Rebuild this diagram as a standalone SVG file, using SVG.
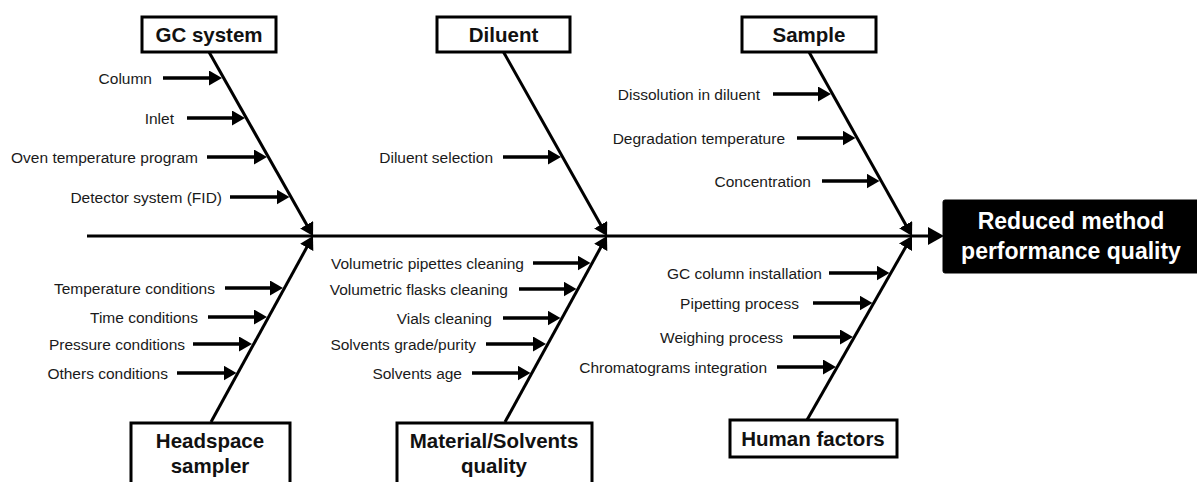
<svg xmlns="http://www.w3.org/2000/svg" width="1197" height="482" viewBox="0 0 1197 482">
  <style>
    .bg { fill: #ffffff; }
    .box { fill: #ffffff; stroke: #000000; stroke-width: 3; }
    .effect { fill: #000000; stroke: #000000; stroke-width: 1; }
    .title { font-family: "Liberation Sans", Arial, sans-serif; font-size: 20.5px; font-weight: bold; fill: #111111; text-anchor: middle; }
    .etitle { font-family: "Liberation Sans", Arial, sans-serif; font-size: 23px; font-weight: bold; fill: #ffffff; text-anchor: middle; }
    .lbl { font-family: "Liberation Sans", Arial, sans-serif; font-size: 15.5px; fill: #1a1a1a; text-anchor: end; }
    .line { stroke: #000000; stroke-width: 3; fill: none; }
    .sub { stroke: #000000; stroke-width: 3.5; fill: none; marker-end: url(#ah); }
    .branch { stroke: #000000; stroke-width: 3; fill: none; marker-end: url(#bh); }
    .spine { stroke: #000000; stroke-width: 3; fill: none; marker-end: url(#sh); }
  </style>
  <defs>
    <marker id="ah" markerUnits="userSpaceOnUse" markerWidth="14" markerHeight="15" refX="7" refY="7.5" orient="auto">
      <path d="M0,0 L13,7.5 L0,15 z" fill="#000000"/>
    </marker>
    <marker id="bh" markerUnits="userSpaceOnUse" markerWidth="14" markerHeight="15" refX="7" refY="7.5" orient="auto">
      <path d="M0,0 L13,7.5 L0,15 z" fill="#000000"/>
    </marker>
    <marker id="sh" markerUnits="userSpaceOnUse" markerWidth="17" markerHeight="18" refX="8" refY="9" orient="auto">
      <path d="M0,0 L16,9 L0,18 z" fill="#000000"/>
    </marker>
  </defs>
  <rect class="bg" x="0" y="0" width="1197" height="482"/>

  <g id="connectors">
    <!-- spine -->
    <line class="spine" x1="87" y1="236" x2="936" y2="236"/>
    <!-- main branches -->
    <line class="branch" x1="209" y1="52" x2="310.1" y2="230.8"/>
    <line class="branch" x1="503.5" y1="52" x2="604.1" y2="230.8"/>
    <line class="branch" x1="809" y1="52" x2="909.1" y2="230.8"/>
    <line class="branch" x1="211" y1="422" x2="310.1" y2="241.3"/>
    <line class="branch" x1="505" y1="422" x2="604.1" y2="241.3"/>
    <line class="branch" x1="807" y1="420" x2="909.0" y2="241.2"/>
    <!-- GC system causes -->
    <line class="sub" x1="163" y1="78" x2="216" y2="78"/>
    <line class="sub" x1="187" y1="118" x2="239" y2="118"/>
    <line class="sub" x1="207" y1="157" x2="261" y2="157"/>
    <line class="sub" x1="230" y1="197" x2="283.5" y2="197"/>
    <!-- Diluent causes -->
    <line class="sub" x1="503" y1="157" x2="555" y2="157"/>
    <!-- Sample causes -->
    <line class="sub" x1="773" y1="94" x2="825" y2="94"/>
    <line class="sub" x1="797" y1="138" x2="849.5" y2="138"/>
    <line class="sub" x1="822" y1="181" x2="873.5" y2="181"/>
    <!-- Headspace causes -->
    <line class="sub" x1="225" y1="288" x2="277" y2="288"/>
    <line class="sub" x1="208" y1="317" x2="261" y2="317"/>
    <line class="sub" x1="193" y1="344" x2="246" y2="344"/>
    <line class="sub" x1="177" y1="373" x2="230.5" y2="373"/>
    <!-- Material causes -->
    <line class="sub" x1="533" y1="263" x2="584.5" y2="263"/>
    <line class="sub" x1="519" y1="289" x2="570.5" y2="289"/>
    <line class="sub" x1="503" y1="318" x2="554.5" y2="318"/>
    <line class="sub" x1="486" y1="344" x2="540" y2="344"/>
    <line class="sub" x1="472" y1="373" x2="524.5" y2="373"/>
    <!-- Human factors causes -->
    <line class="sub" x1="829" y1="273" x2="883.5" y2="273"/>
    <line class="sub" x1="813" y1="303" x2="866.5" y2="303"/>
    <line class="sub" x1="793" y1="337" x2="847" y2="337"/>
    <line class="sub" x1="777" y1="367" x2="830" y2="367"/>
  </g>

  <g id="labels">
    <text class="lbl" x="152" y="83.5">Column</text>
    <text class="lbl" x="174" y="123.5">Inlet</text>
    <text class="lbl" x="198" y="162.5">Oven temperature program</text>
    <text class="lbl" x="222" y="202.5">Detector system (FID)</text>
    <text class="lbl" x="493" y="162.5">Diluent selection</text>
    <text class="lbl" x="760" y="99.5">Dissolution in diluent</text>
    <text class="lbl" x="785" y="143.5">Degradation temperature</text>
    <text class="lbl" x="811" y="186.5">Concentration</text>
    <text class="lbl" x="215" y="293.5">Temperature conditions</text>
    <text class="lbl" x="198" y="322.5">Time conditions</text>
    <text class="lbl" x="185" y="349.5">Pressure conditions</text>
    <text class="lbl" x="168" y="378.5">Others conditions</text>
    <text class="lbl" x="524" y="268.5">Volumetric pipettes cleaning</text>
    <text class="lbl" x="508" y="294.5">Volumetric flasks cleaning</text>
    <text class="lbl" x="492" y="323.5">Vials cleaning</text>
    <text class="lbl" x="476" y="349.5">Solvents grade/purity</text>
    <text class="lbl" x="462" y="378.5">Solvents age</text>
    <text class="lbl" x="822" y="278.5">GC column installation</text>
    <text class="lbl" x="799" y="308.5">Pipetting process</text>
    <text class="lbl" x="783" y="342.5">Weighing process</text>
    <text class="lbl" x="767" y="372.5">Chromatograms integration</text>
  </g>

  <g id="gc-system">
    <rect class="box" x="142" y="17" width="134" height="35"/>
    <text class="title" x="209" y="42">GC system</text>
  </g>
  <g id="diluent">
    <rect class="box" x="437" y="17" width="133" height="35"/>
    <text class="title" x="503.5" y="42">Diluent</text>
  </g>
  <g id="sample">
    <rect class="box" x="742" y="17" width="134" height="35"/>
    <text class="title" x="809" y="42">Sample</text>
  </g>
  <g id="headspace-sampler">
    <rect class="box" x="131" y="423" width="159" height="70"/>
    <text class="title" x="210" y="448">Headspace</text>
    <text class="title" x="210" y="473">sampler</text>
  </g>
  <g id="material-solvents-quality">
    <rect class="box" x="397" y="423" width="195" height="70"/>
    <text class="title" x="494" y="448">Material/Solvents</text>
    <text class="title" x="494" y="473">quality</text>
  </g>
  <g id="human-factors">
    <rect class="box" x="730" y="420" width="167" height="37"/>
    <text class="title" x="813" y="446">Human factors</text>
  </g>
  <g id="effect">
    <rect class="effect" x="943" y="200" width="260" height="73" rx="2"/>
    <text class="etitle" x="1071" y="229">Reduced method</text>
    <text class="etitle" x="1071" y="259">performance quality</text>
  </g>
</svg>
